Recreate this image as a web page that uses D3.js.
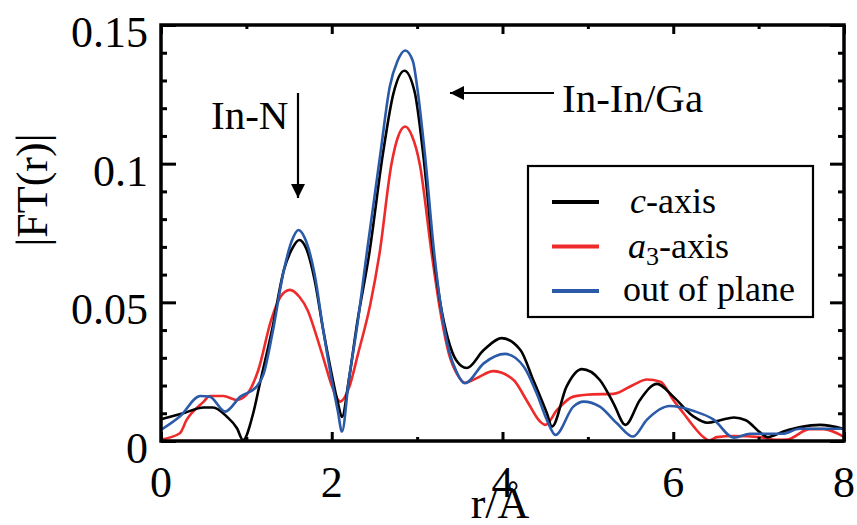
<!DOCTYPE html>
<html>
<head>
<meta charset="utf-8">
<script src="https://cdn.jsdelivr.net/npm/d3@7"></script>
<style>
  html, body { margin: 0; padding: 0; background: #fff; }
  svg { display: block; }
</style>
</head>
<body>
<div id="chart"></div>
<script>
// ---------- data ----------
const xTicks = [0, 2, 4, 6, 8];
const xTickLabels = ["0", "2", "4", "6", "8"];
const yTicks = [0, 0.05, 0.1, 0.15];
const yTickLabels = ["0", "0.05", "0.1", "0.15"];
const seriesNames = ["c-axis", "a3-axis", "out of plane"];
const seriesColors = ["#000000", "#ee2a2a", "#2a5aa8"];

const cAxisR = [0, 0.26, 0.5, 0.61, 0.77, 0.89, 0.96, 1.08, 1.16, 1.3, 1.44, 1.53, 1.62, 1.7, 1.8, 1.9, 2.0, 2.07, 2.12, 2.2, 2.3, 2.44, 2.6, 2.72, 2.85, 2.97, 3.07, 3.19, 3.27, 3.36, 3.46, 3.58, 3.78, 3.99, 4.21, 4.36, 4.52, 4.58, 4.75, 4.93, 5.14, 5.3, 5.44, 5.61, 5.81, 6.0, 6.24, 6.4, 6.55, 6.71, 6.85, 7.02, 7.1, 7.3, 7.49, 7.72, 8.0];
const cAxisV = [0.0078, 0.01, 0.0121, 0.0121, 0.0088, 0.0046, 0.0003, 0.01, 0.021, 0.040, 0.0617, 0.069, 0.0725, 0.0695, 0.058, 0.040, 0.024, 0.014, 0.0087, 0.022, 0.043, 0.0677, 0.1037, 0.125, 0.1335, 0.126, 0.1037, 0.0677, 0.050, 0.037, 0.029, 0.0263, 0.0328, 0.0371, 0.0328, 0.022, 0.010, 0.0052, 0.0196, 0.0259, 0.022, 0.0136, 0.0058, 0.0148, 0.0206, 0.016, 0.0088, 0.0066, 0.0075, 0.0085, 0.0075, 0.003, 0.0014, 0.0035, 0.005, 0.0058, 0.0043];

const a3AxisR = [0, 0.22, 0.3, 0.5, 0.57, 0.73, 0.89, 1.0, 1.14, 1.29, 1.4, 1.51, 1.62, 1.72, 1.82, 1.92, 2.0, 2.1, 2.2, 2.31, 2.45, 2.56, 2.7, 2.78, 2.86, 2.94, 3.03, 3.17, 3.27, 3.37, 3.47, 3.56, 3.72, 3.89, 4.13, 4.28, 4.44, 4.5, 4.64, 4.83, 5.05, 5.3, 5.53, 5.69, 5.85, 6.0, 6.12, 6.24, 6.35, 6.42, 6.51, 6.71, 7.02, 7.2, 7.33, 7.6, 7.76, 8.0];
const a3AxisV = [0.0005, 0.0028, 0.0076, 0.0142, 0.0162, 0.0162, 0.0148, 0.0166, 0.0256, 0.0436, 0.052, 0.0545, 0.052, 0.047, 0.038, 0.028, 0.020, 0.0142, 0.019, 0.0317, 0.049, 0.0677, 0.100, 0.110, 0.1134, 0.110, 0.100, 0.0677, 0.047, 0.0317, 0.024, 0.021, 0.023, 0.0252, 0.022, 0.0148, 0.007, 0.0058, 0.0112, 0.016, 0.0168, 0.017, 0.0202, 0.0222, 0.0214, 0.0148, 0.010, 0.0052, 0.0015, 0.0002, 0.0014, 0.0018, 0.0014, 0.0004, 0.0005, 0.0043, 0.0043, 0.0015];

const outPlaneR = [0, 0.22, 0.46, 0.57, 0.75, 0.93, 1.12, 1.2, 1.3, 1.44, 1.53, 1.61, 1.7, 1.8, 1.9, 2.0, 2.07, 2.12, 2.2, 2.3, 2.41, 2.57, 2.68, 2.77, 2.86, 2.95, 3.0, 3.09, 3.2, 3.28, 3.37, 3.46, 3.56, 3.78, 4.03, 4.25, 4.4, 4.52, 4.62, 4.83, 4.95, 5.14, 5.34, 5.53, 5.69, 5.96, 6.24, 6.47, 6.71, 6.9, 7.28, 7.48, 8.0];
const outPlaneV = [0.004, 0.0088, 0.0162, 0.016, 0.0106, 0.016, 0.0196, 0.024, 0.038, 0.0617, 0.072, 0.0761, 0.072, 0.060, 0.040, 0.022, 0.011, 0.0034, 0.022, 0.042, 0.0677, 0.1037, 0.1278, 0.137, 0.1408, 0.137, 0.1278, 0.1037, 0.0677, 0.048, 0.033, 0.025, 0.0208, 0.028, 0.0314, 0.0268, 0.0172, 0.0076, 0.0022, 0.0124, 0.0142, 0.0124, 0.0064, 0.0016, 0.0076, 0.0126, 0.0108, 0.0078, 0.0012, 0.0026, 0.0026, 0.0044, 0.0044];

const seriesR = [cAxisR, a3AxisR, outPlaneR];
const seriesV = [cAxisV, a3AxisV, outPlaneV];

// ---------- layout ----------
const W = 857, H = 525;
const FONT = "'Liberation Serif'";
const svg = d3.select("#chart").append("svg")
  .attr("width", W).attr("height", H);

function txt(sel) { return sel.style("font-family", FONT).attr("fill", "#000"); }

const x = d3.scaleLinear().domain([0, 8]).range([161, 844]);
const y = d3.scaleLinear().domain([0, 0.15]).range([441, 25]);

// curves
const line = d3.line().x(d => x(d[0])).y(d => y(d[1])).curve(d3.curveMonotoneX);
const plot = svg.append("g");
[1, 0, 2].forEach(i => {
  const pts = seriesR[i].map((r, k) => [r, seriesV[i][k]]);
  plot.append("path").datum(pts)
    .attr("d", line).attr("fill", "none")
    .attr("stroke", seriesColors[i]).attr("stroke-width", 2.6)
    .attr("stroke-linejoin", "round");
});

// axes (ticks inward, all four sides)
const xMinor = d3.range(1, 8, 2);
const yMinor = d3.range(0, 0.1501, 0.01).filter(v => !yTicks.some(t => Math.abs(t - v) < 1e-6));

const axB = d3.axisBottom(x).tickValues(xTicks).tickSize(-9).tickFormat("");
const axT = d3.axisTop(x).tickValues(xTicks).tickSize(-9).tickFormat("");
const axL = d3.axisLeft(y).tickValues(yTicks).tickSize(-15).tickFormat("");
const axR = d3.axisRight(y).tickValues(yTicks).tickSize(-14).tickFormat("");
const axBm = d3.axisBottom(x).tickValues(xMinor).tickSize(-4).tickFormat("");
const axTm = d3.axisTop(x).tickValues(xMinor).tickSize(-4).tickFormat("");
const axLm = d3.axisLeft(y).tickValues(yMinor).tickSize(-6).tickFormat("");
const axRm = d3.axisRight(y).tickValues(yMinor).tickSize(-6).tickFormat("");

function put(ax, tx, ty) {
  const g = svg.append("g").attr("transform", `translate(${tx},${ty})`).call(ax);
  g.select(".domain").remove();
  g.selectAll(".tick text").remove();
  g.selectAll(".tick line").attr("stroke", "#000").attr("stroke-width", 3);
}
put(axB, 0, 441); put(axBm, 0, 441);
put(axT, 0, 25); put(axTm, 0, 25);
put(axL, 161, 0); put(axLm, 161, 0);
put(axR, 844, 0); put(axRm, 844, 0);

svg.append("rect").attr("x", 161).attr("y", 25)
  .attr("width", 844 - 161).attr("height", 441 - 25)
  .attr("fill", "none").attr("stroke", "#000").attr("stroke-width", 3.5);

// tick labels
svg.append("g").selectAll("text").data(xTicks).join("text")
  .call(txt)
  .attr("x", d => x(d)).attr("y", 497)
  .attr("text-anchor", "middle").attr("font-size", 44)
  .text((d, i) => xTickLabels[i]);
svg.append("g").selectAll("text").data(yTicks).join("text")
  .call(txt)
  .attr("x", 148).attr("y", d => y(d) + 22)
  .attr("text-anchor", "end").attr("font-size", 44)
  .text((d, i) => yTickLabels[i]);

// axis titles
svg.append("text").call(txt).attr("x", 500).attr("y", 518).attr("text-anchor", "middle")
  .attr("font-size", 44).text("r/Å");
svg.append("text").call(txt).attr("transform", "translate(47,190) rotate(-90)")
  .attr("text-anchor", "middle").attr("font-size", 44).text("|FT(r)|");

// annotations
const defs = svg.append("defs");
defs.append("marker").attr("id", "ah").attr("viewBox", "0 0 10 10")
  .attr("refX", 10).attr("refY", 5).attr("markerWidth", 15).attr("markerHeight", 14)
  .attr("markerUnits", "userSpaceOnUse").attr("orient", "auto")
  .append("path").attr("d", "M0,0 L10,5 L0,10 Z").attr("fill", "#000");

svg.append("text").call(txt).attr("x", 211).attr("y", 129).attr("font-size", 41).text("In-N");
svg.append("line").attr("x1", 298).attr("y1", 93).attr("x2", 298).attr("y2", 198)
  .attr("stroke", "#000").attr("stroke-width", 2.2).attr("marker-end", "url(#ah)");

svg.append("text").call(txt).attr("x", 562).attr("y", 112).attr("font-size", 41).text("In-In/Ga");
svg.append("line").attr("x1", 554).attr("y1", 93).attr("x2", 450).attr("y2", 93)
  .attr("stroke", "#000").attr("stroke-width", 2.2).attr("marker-end", "url(#ah)");

// legend
const lg = svg.append("g");
lg.append("rect").attr("x", 528).attr("y", 166).attr("width", 285).attr("height", 151)
  .attr("fill", "#fff").attr("stroke", "#000").attr("stroke-width", 2.2);
const rowsY = [202, 246.5, 291];
seriesNames.forEach((name, i) => {
  lg.append("line").attr("x1", 552).attr("x2", 599).attr("y1", rowsY[i]).attr("y2", rowsY[i])
    .attr("stroke", seriesColors[i]).attr("stroke-width", 4);
});
const t0 = lg.append("text").call(txt).attr("x", 630).attr("y", rowsY[0] + 11).attr("font-size", 36);
t0.append("tspan").attr("font-style", "italic").text("c");
t0.append("tspan").text("-axis");
const t1 = lg.append("text").call(txt).attr("x", 628).attr("y", rowsY[1] + 11).attr("font-size", 36);
t1.append("tspan").attr("font-style", "italic").text("a");
t1.append("tspan").attr("font-size", 26).attr("dy", 7).text("3");
t1.append("tspan").attr("dy", -7).text("-axis");
lg.append("text").call(txt).attr("x", 623).attr("y", rowsY[2] + 10).attr("font-size", 36).text(seriesNames[2]);
</script>
</body>
</html>
